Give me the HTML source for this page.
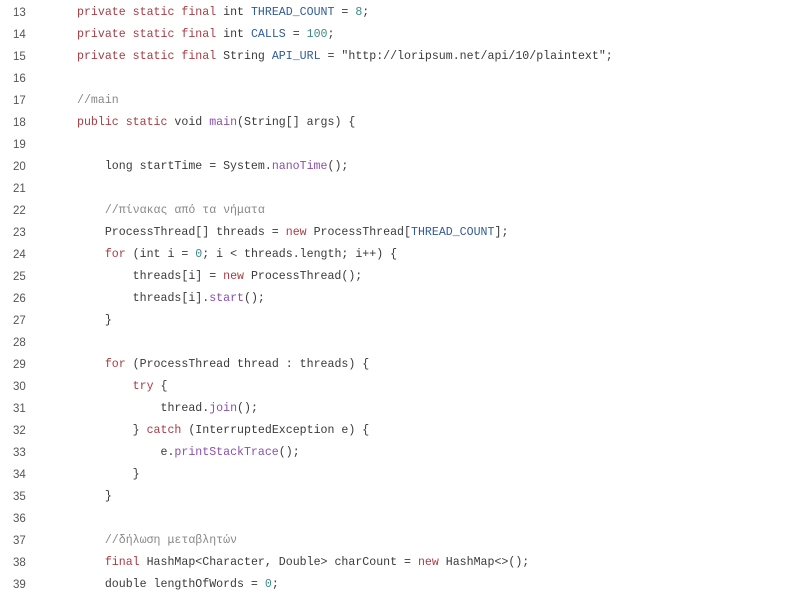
<!DOCTYPE html>
<html><head><meta charset="utf-8"><style>
body{margin:0;width:800px;height:600px;background:#fff;overflow:hidden;position:relative;font-family:"Liberation Mono","DejaVu Sans Mono",monospace;font-size:11.6px;color:#3a3a3a}
.l{position:absolute;left:0;height:22px;line-height:22px;white-space:pre}
.n{position:absolute;left:13px;color:#555;font-family:"Liberation Sans",sans-serif;font-size:11.5px}
.c{position:absolute;left:77px}
.k{color:#a83c44}.b{color:#2f5b9c}.m{color:#8b4fae}.g{color:#888}.d{color:#3c8a8a}.s{color:#3a3a3a}
</style></head><body>
<div class="l" style="top:2px"><span class="n">13</span><span class="c"><span class="k">private static final</span> int <span class="b">THREAD_COUNT</span> = <span class="d">8</span>;</span></div>
<div class="l" style="top:24px"><span class="n">14</span><span class="c"><span class="k">private static final</span> int <span class="b">CALLS</span> = <span class="d">100</span>;</span></div>
<div class="l" style="top:46px"><span class="n">15</span><span class="c"><span class="k">private static final</span> String <span class="b">API_URL</span> = <span class="s">"http://loripsum.net/api/10/plaintext"</span>;</span></div>
<div class="l" style="top:68px"><span class="n">16</span></div>
<div class="l" style="top:90px"><span class="n">17</span><span class="c g">//main</span></div>
<div class="l" style="top:112px"><span class="n">18</span><span class="c"><span class="k">public static</span> void <span class="m">main</span>(String[] args) {</span></div>
<div class="l" style="top:134px"><span class="n">19</span></div>
<div class="l" style="top:156px"><span class="n">20</span><span class="c">    long startTime = System.<span class="m">nanoTime</span>();</span></div>
<div class="l" style="top:178px"><span class="n">21</span></div>
<div class="l" style="top:200px"><span class="n">22</span><span class="c g">    //πίνακας από τα νήματα</span></div>
<div class="l" style="top:222px"><span class="n">23</span><span class="c">    ProcessThread[] threads = <span class="k">new</span> ProcessThread[<span class="b">THREAD_COUNT</span>];</span></div>
<div class="l" style="top:244px"><span class="n">24</span><span class="c">    <span class="k">for</span> (int i = <span class="d">0</span>; i &lt; threads.length; i++) {</span></div>
<div class="l" style="top:266px"><span class="n">25</span><span class="c">        threads[i] = <span class="k">new</span> ProcessThread();</span></div>
<div class="l" style="top:288px"><span class="n">26</span><span class="c">        threads[i].<span class="m">start</span>();</span></div>
<div class="l" style="top:310px"><span class="n">27</span><span class="c">    }</span></div>
<div class="l" style="top:332px"><span class="n">28</span></div>
<div class="l" style="top:354px"><span class="n">29</span><span class="c">    <span class="k">for</span> (ProcessThread thread : threads) {</span></div>
<div class="l" style="top:376px"><span class="n">30</span><span class="c">        <span class="k">try</span> {</span></div>
<div class="l" style="top:398px"><span class="n">31</span><span class="c">            thread.<span class="m">join</span>();</span></div>
<div class="l" style="top:420px"><span class="n">32</span><span class="c">        } <span class="k">catch</span> (InterruptedException e) {</span></div>
<div class="l" style="top:442px"><span class="n">33</span><span class="c">            e.<span class="m">printStackTrace</span>();</span></div>
<div class="l" style="top:464px"><span class="n">34</span><span class="c">        }</span></div>
<div class="l" style="top:486px"><span class="n">35</span><span class="c">    }</span></div>
<div class="l" style="top:508px"><span class="n">36</span></div>
<div class="l" style="top:530px"><span class="n">37</span><span class="c g">    //δήλωση μεταβλητών</span></div>
<div class="l" style="top:552px"><span class="n">38</span><span class="c">    <span class="k">final</span> HashMap&lt;Character, Double&gt; charCount = <span class="k">new</span> HashMap&lt;&gt;();</span></div>
<div class="l" style="top:574px"><span class="n">39</span><span class="c">    double lengthOfWords = <span class="d">0</span>;</span></div>
</body></html>
